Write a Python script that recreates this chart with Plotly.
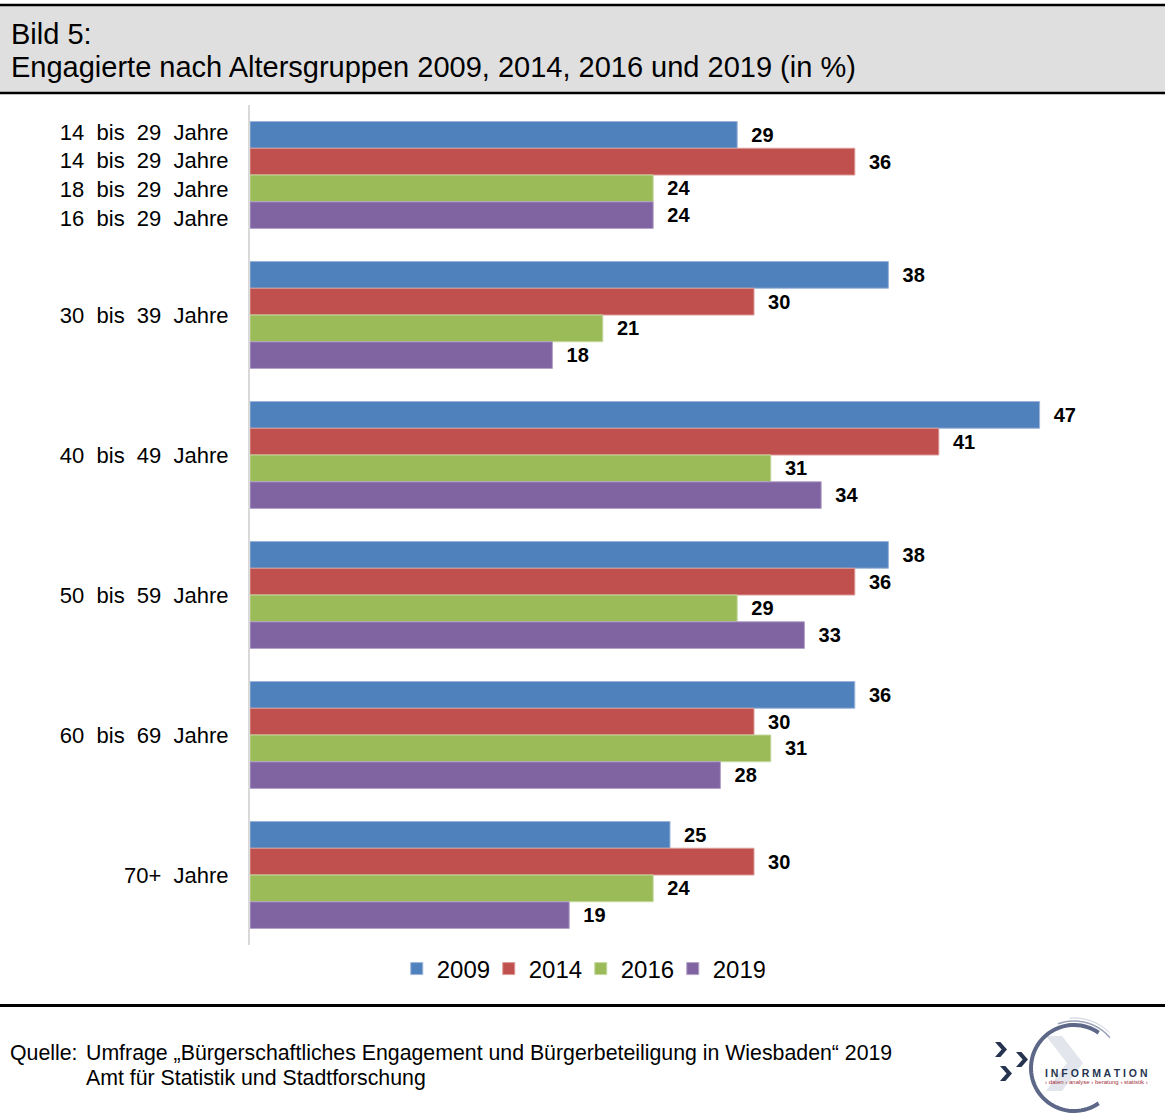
import numpy as np
import plotly.graph_objects as go

# ---------------- data ----------------
categories = ["14-29", "30-39", "40-49", "50-59", "60-69", "70+"]
tick_labels = [
    "14\u00a0 bis\u00a0 29\u00a0 Jahre<br>14\u00a0 bis\u00a0 29\u00a0 Jahre<br>18\u00a0 bis\u00a0 29\u00a0 Jahre<br>16\u00a0 bis\u00a0 29\u00a0 Jahre",
    "30\u00a0 bis\u00a0 39\u00a0 Jahre",
    "40\u00a0 bis\u00a0 49\u00a0 Jahre",
    "50\u00a0 bis\u00a0 59\u00a0 Jahre",
    "60\u00a0 bis\u00a0 69\u00a0 Jahre",
    "70+\u00a0 Jahre",
]
years = ["2009", "2014", "2016", "2019"]
values_2009 = [29, 38, 47, 38, 36, 25]
values_2014 = [36, 30, 41, 36, 30, 30]
values_2016 = [24, 21, 31, 29, 31, 24]
values_2019 = [24, 18, 34, 33, 28, 19]
series = [values_2009, values_2014, values_2016, values_2019]
colors = ["#4F81BD", "#C0504D", "#9BBB59", "#8064A2"]
edge_colors = ["#9db5da", "#dc9a98", "#c5d9a0", "#b3a2c7"]

W, H = 1165, 1117
FONT = "Liberation Sans, Arial, Helvetica, sans-serif"


def px(x):
    return x / W


def py(y):
    return 1 - y / H


fig = go.Figure()
for yr, vals, col, ec in zip(years, series, colors, edge_colors):
    fig.add_trace(go.Bar(
        name=yr, y=categories, x=vals, orientation="h",
        marker=dict(color=col, line=dict(color=ec, width=1)),
        text=vals, texttemplate="\u00a0\u00a0%{x}", textposition="outside",
        textfont=dict(family=FONT, size=20, color="black", weight="bold"),
        cliponaxis=False, constraintext="none",
        hoverinfo="skip",
    ))

shapes = [
    # header band
    dict(type="rect", xref="paper", yref="paper", x0=0, x1=1, y0=py(93), y1=py(5),
         fillcolor="#dfdfdf", line=dict(width=0), layer="below"),
    dict(type="line", xref="paper", yref="paper", x0=0, x1=1, y0=py(5), y1=py(5),
         line=dict(color="black", width=2.5)),
    dict(type="line", xref="paper", yref="paper", x0=0, x1=1, y0=py(93), y1=py(93),
         line=dict(color="black", width=2.5)),
    # footer line
    dict(type="line", xref="paper", yref="paper", x0=0, x1=1, y0=py(1005.5), y1=py(1005.5),
         line=dict(color="black", width=3)),
]

# ---------------- logo (decoration) ----------------
def path_from(points, close=True):
    s = "M" + " L".join(f"{px(x):.5f},{py(y):.5f}" for x, y in points)
    return s + (" Z" if close else "")


def arc_points(cx, cy, r, a0, a1, n=60):
    t = np.radians(np.linspace(a0, a1, n))
    return [(cx + r * np.cos(a), cy - r * np.sin(a)) for a in t]


# light big chevron
shapes.append(dict(type="path", xref="paper", yref="paper",
                   path=path_from([(1046, 1036), (1062, 1036), (1083, 1063), (1062, 1091),
                                   (1046, 1091), (1067, 1063)]),
                   fillcolor="#e3e5ec", line=dict(width=0)))
# main arc
shapes.append(dict(type="path", xref="paper", yref="paper",
                   path=path_from(arc_points(1074, 1068, 43, 55, 305), close=False),
                   line=dict(color="#5d6888", width=4)))
shapes.append(dict(type="path", xref="paper", yref="paper",
                   path=path_from(arc_points(1074, 1068, 47, 40, 110), close=False),
                   line=dict(color="#9aa2b8", width=1.5)))
shapes.append(dict(type="path", xref="paper", yref="paper",
                   path=path_from(arc_points(1074, 1068, 50, 45, 95), close=False),
                   line=dict(color="#c3c8d6", width=1)))


def chevron(x0, y0, w, h):
    ym = y0 + h / 2
    return [(x0, y0), (x0 + w * 0.45, y0), (x0 + w, ym), (x0 + w * 0.45, y0 + h),
            (x0, y0 + h), (x0 + w * 0.55, ym)]


for cx0, cy0 in [(995, 1042), (1016, 1052), (1000, 1066)]:
    shapes.append(dict(type="path", xref="paper", yref="paper",
                       path=path_from(chevron(cx0, cy0, 12, 15)),
                       fillcolor="#26344f", line=dict(width=0)))

annotations = [
    dict(text="Bild 5:", x=px(9), y=py(34), xref="paper", yref="paper",
         xanchor="left", yanchor="middle", showarrow=False,
         font=dict(family=FONT, size=29, color="black")),
    dict(text="Engagierte nach Altersgruppen 2009, 2014, 2016 und 2019 (in %)",
         x=px(9), y=py(67), xref="paper", yref="paper",
         xanchor="left", yanchor="middle", showarrow=False,
         font=dict(family=FONT, size=29, color="black")),
    dict(text="Quelle:", x=px(8), y=py(1053), xref="paper", yref="paper",
         xanchor="left", yanchor="middle", showarrow=False,
         font=dict(family=FONT, size=21.3, color="black")),
    dict(text="Umfrage \u201eBürgerschaftliches Engagement und Bürgerbeteiligung in Wiesbaden\u201c 2019",
         x=px(84), y=py(1053), xref="paper", yref="paper",
         xanchor="left", yanchor="middle", showarrow=False,
         font=dict(family=FONT, size=21.3, color="black")),
    dict(text="Amt für Statistik und Stadtforschung",
         x=px(84), y=py(1078), xref="paper", yref="paper",
         xanchor="left", yanchor="middle", showarrow=False,
         font=dict(family=FONT, size=21.3, color="black")),
    dict(text="I N F O R M A T I O N", x=px(1096), y=py(1073), xref="paper", yref="paper",
         xanchor="center", yanchor="middle", showarrow=False,
         font=dict(family=FONT, size=10.5, color="#26344f", weight="bold")),
    dict(text="› daten › analyse › beratung › statistik ›", x=px(1096), y=py(1082),
         xref="paper", yref="paper", xanchor="center", yanchor="middle", showarrow=False,
         font=dict(family=FONT, size=6, color="#a33240")),
]

fig.update_layout(
    width=W, height=H,
    margin=dict(l=0, r=0, t=0, b=0),
    paper_bgcolor="white", plot_bgcolor="white",
    barmode="group", bargap=0.236, bargroupgap=0,
    font=dict(family=FONT, color="black"),
    xaxis=dict(domain=[px(250), px(1090)], range=[0, 50], showgrid=False,
               zeroline=False, showticklabels=False, ticks="", showline=False),
    yaxis=dict(domain=[py(945), py(105)], type="category", categoryorder="array",
               categoryarray=categories, autorange="reversed",
               tickmode="array", tickvals=categories, ticktext=tick_labels,
               showline=True, linecolor="#d9d9d9", linewidth=2,
               ticks="", ticklabelstandoff=15, showgrid=False,
               tickfont=dict(family=FONT, size=22, color="black")),
    legend=dict(orientation="h", x=0.4985, xanchor="center", y=py(969), yanchor="middle",
                font=dict(family=FONT, size=24, color="black"), traceorder="normal",
                entrywidth=47, entrywidthmode="pixels",
                bgcolor="rgba(0,0,0,0)"),
    shapes=shapes, annotations=annotations,
    showlegend=True,
)

fig.write_html("out.html", config={"displayModeBar": False},
               post_script="document.body.style.margin='0';document.body.style.padding='0';")
